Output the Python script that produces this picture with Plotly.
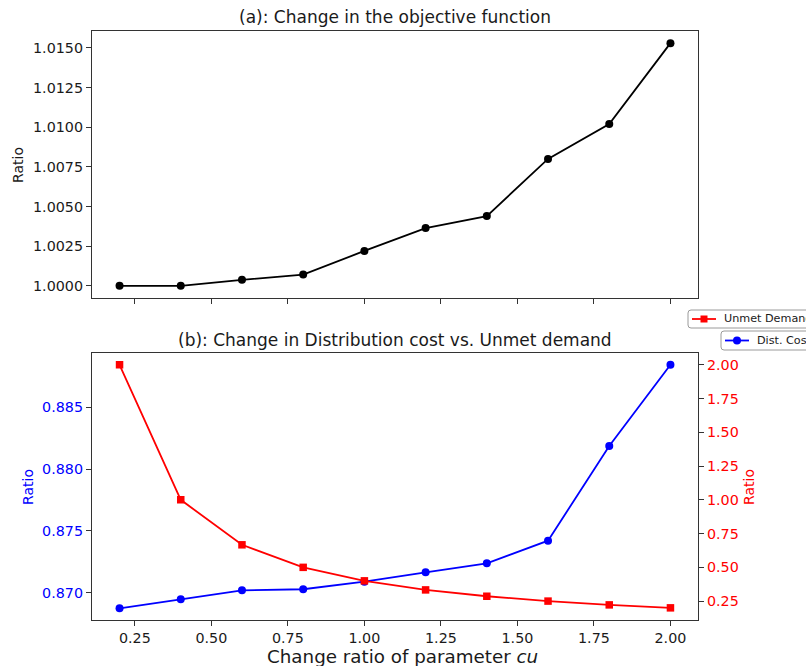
import plotly.graph_objects as go

# Change ratio of parameter cu
cu_ratio = [0.2, 0.4, 0.6, 0.8, 1.0, 1.2, 1.4, 1.6, 1.8, 2.0]

# (a) objective function ratio
objective_ratio = [1.0000, 1.0000, 1.00038, 1.00071, 1.0022, 1.00364, 1.0044, 1.0080, 1.0102, 1.0153]

# (b) distribution cost ratio (left axis) and unmet demand ratio (right axis)
dist_cost_ratio = [0.86874, 0.86947, 0.87019, 0.87028, 0.87089, 0.87165, 0.87238, 0.87421, 0.88187, 0.88845]
unmet_demand_ratio = [2.0, 1.0, 0.667, 0.5, 0.4, 0.333, 0.286, 0.25, 0.222, 0.2]

x_ticks = [0.25, 0.50, 0.75, 1.00, 1.25, 1.50, 1.75, 2.00]
obj_ticks = [1.0000, 1.0025, 1.0050, 1.0075, 1.0100, 1.0125, 1.0150]
cost_ticks = [0.870, 0.875, 0.880, 0.885]
unmet_ticks = [0.25, 0.50, 0.75, 1.00, 1.25, 1.50, 1.75, 2.00]

W, H = 806, 666
FONT = "DejaVu Sans"
INK = "#1a1a1a"
FRAME = "#333333"
BLUE = "#0000ff"
RED = "#ff0000"


def px_x(p):
    return p / W


def px_y(p):
    return 1 - p / H


x_dom = [px_x(92), px_x(698)]
top_dom = [px_y(298), px_y(31)]
bot_dom = [px_y(620), px_y(352.7)]

fig = go.Figure()

fig.add_trace(go.Scatter(
    x=cu_ratio, y=objective_ratio, mode="lines+markers",
    line=dict(color="black", width=1.8),
    marker=dict(color="black", size=8, symbol="circle"),
    xaxis="x", yaxis="y", showlegend=False,
))

fig.add_trace(go.Scatter(
    x=cu_ratio, y=dist_cost_ratio, mode="lines+markers", name="Dist. Cost",
    line=dict(color=BLUE, width=1.8),
    marker=dict(color=BLUE, size=8, symbol="circle"),
    xaxis="x2", yaxis="y2", showlegend=False,
))

fig.add_trace(go.Scatter(
    x=cu_ratio, y=unmet_demand_ratio, mode="lines+markers", name="Unmet Demand",
    line=dict(color=RED, width=1.8),
    marker=dict(color=RED, size=7.5, symbol="square"),
    xaxis="x2", yaxis="y3", showlegend=False,
))

axis_common = dict(
    showgrid=False, zeroline=False, showline=True, linecolor=FRAME, linewidth=1.2,
    ticks="outside", ticklen=5, tickwidth=1.2, tickcolor=FRAME,
    tickfont=dict(family=FONT, size=14.3, color=INK),
)

x_range = [0.11, 2.09]


def rounded_box(x0, y0, x1, y1, r=3):
    """Rounded rectangle path in paper coordinates, given pixel corners."""
    X = lambda p: px_x(p)
    Y = lambda p: px_y(p)
    return (
        f"M {X(x0 + r)},{Y(y0)} L {X(x1 - r)},{Y(y0)} Q {X(x1)},{Y(y0)} {X(x1)},{Y(y0 + r)} "
        f"L {X(x1)},{Y(y1 - r)} Q {X(x1)},{Y(y1)} {X(x1 - r)},{Y(y1)} "
        f"L {X(x0 + r)},{Y(y1)} Q {X(x0)},{Y(y1)} {X(x0)},{Y(y1 - r)} "
        f"L {X(x0)},{Y(y0 + r)} Q {X(x0)},{Y(y0)} {X(x0 + r)},{Y(y0)} Z"
    )


# Two separate legend boxes (one per axis), anchored at the top right
legend_items = [
    # label, color, symbol, box left, box top, box bottom
    ("Unmet Demand", RED, "square", 688, 310, 328),
    ("Dist. Cost", BLUE, "circle", 721, 331, 350),
]

shapes = []
annotations = []
for label, color, symbol, bx0, by0, by1 in legend_items:
    yc = (by0 + by1) / 2
    shapes.append(dict(type="path", xref="paper", yref="paper",
                       path=rounded_box(bx0, by0, bx0 + 160, by1),
                       fillcolor="white", line=dict(color="#9a9a9a", width=1)))
    shapes.append(dict(type="line", xref="paper", yref="paper",
                       x0=px_x(bx0 + 4), x1=px_x(bx0 + 28), y0=px_y(yc), y1=px_y(yc),
                       line=dict(color=color, width=1.8)))
    mx = bx0 + 16
    if symbol == "square":
        shapes.append(dict(type="rect", xref="paper", yref="paper",
                           x0=px_x(mx - 3.5), x1=px_x(mx + 3.5),
                           y0=px_y(yc + 3.5), y1=px_y(yc - 3.5),
                           fillcolor=color, line=dict(width=0)))
    else:
        shapes.append(dict(type="circle", xref="paper", yref="paper",
                           x0=px_x(mx - 4), x1=px_x(mx + 4),
                           y0=px_y(yc + 4), y1=px_y(yc - 4),
                           fillcolor=color, line=dict(width=0)))
    annotations.append(dict(text=label, x=px_x(bx0 + 34), y=px_y(yc), xref="paper",
                            yref="paper", showarrow=False, xanchor="left",
                            yanchor="middle",
                            font=dict(family=FONT, size=11.2, color=INK)))

annotations += [
    dict(text="(a): Change in the objective function", x=(x_dom[0] + x_dom[1]) / 2,
         y=px_y(17), xref="paper", yref="paper", showarrow=False,
         xanchor="center", yanchor="middle", font=dict(family=FONT, size=17, color=INK)),
    dict(text="(b): Change in Distribution cost vs. Unmet demand",
         x=(x_dom[0] + x_dom[1]) / 2, y=px_y(340), xref="paper", yref="paper",
         showarrow=False, xanchor="center", yanchor="middle",
         font=dict(family=FONT, size=17, color=INK)),
    dict(text="Ratio", x=px_x(18), y=px_y(165), xref="paper", yref="paper",
         showarrow=False, textangle=-90, xanchor="center", yanchor="middle",
         font=dict(family=FONT, size=14, color=INK)),
    dict(text="Ratio", x=px_x(28), y=px_y(487), xref="paper", yref="paper",
         showarrow=False, textangle=-90, xanchor="center", yanchor="middle",
         font=dict(family=FONT, size=14, color=BLUE)),
    dict(text="Ratio", x=px_x(749), y=px_y(487), xref="paper", yref="paper",
         showarrow=False, textangle=-90, xanchor="center", yanchor="middle",
         font=dict(family=FONT, size=14, color=RED)),
    dict(text="Change ratio of parameter <i>cu</i>", x=px_x(402),
         y=px_y(656), xref="paper", yref="paper", showarrow=False,
         xanchor="center", yanchor="middle", font=dict(family=FONT, size=18.3, color=INK)),
]

fig.update_layout(
    width=W, height=H,
    margin=dict(l=0, r=0, t=0, b=0, autoexpand=False),
    paper_bgcolor="white", plot_bgcolor="white",
    font=dict(family=FONT, color=INK),
    showlegend=False,
    xaxis=dict(domain=x_dom, anchor="y", range=x_range, tickvals=x_ticks,
               showticklabels=False, mirror=True, **axis_common),
    yaxis=dict(domain=top_dom, anchor="x", range=[0.999235, 1.016065],
               tickvals=obj_ticks, tickformat=".4f", mirror=True, **axis_common),
    xaxis2=dict(domain=x_dom, anchor="y2", range=x_range, tickvals=x_ticks,
                tickformat=".2f", mirror=True, **axis_common),
    yaxis2=dict(domain=bot_dom, anchor="x2", range=[0.86779, 0.88943],
                tickvals=cost_ticks, tickformat=".3f", mirror=True,
                **{**axis_common, "tickfont": dict(family=FONT, size=14.3, color=BLUE)}),
    yaxis3=dict(overlaying="y2", anchor="x2", side="right", range=[0.11, 2.09],
                tickvals=unmet_ticks, tickformat=".2f",
                **{**axis_common, "tickfont": dict(family=FONT, size=14.3, color=RED)}),
    shapes=shapes,
    annotations=annotations,
)

fig.write_html("out.html")
